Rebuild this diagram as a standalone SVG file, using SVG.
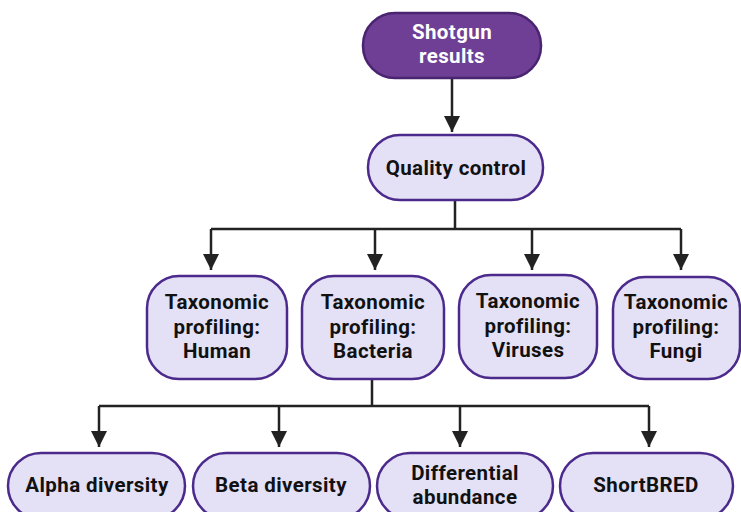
<svg xmlns="http://www.w3.org/2000/svg" width="741" height="512" viewBox="0 0 741 512">
<defs>
<style>
.box{fill:#e4e1f6;stroke:#4b2a8c;stroke-width:2.5}
.top{fill:#6e3f95;stroke:#4a2470;stroke-width:2.5}
.t{font-family:Roboto,"Liberation Sans",sans-serif;font-weight:bold;font-size:20.5px;letter-spacing:0.4px;fill:#111;text-anchor:middle}
.w{fill:#fff}
.c{fill:none;stroke:#222;stroke-width:2.5}
</style>
<marker id="ah" markerUnits="userSpaceOnUse" markerWidth="16" markerHeight="16" viewBox="0 0 16 16" refX="16" refY="8" orient="auto">
<path d="M0,0 L16,8 L0,16 Z" fill="#222"/>
</marker>
</defs>
<g id="connectors">
<path class="c" d="M452,78 V132" marker-end="url(#ah)"/>
<path class="c" d="M455,200 V229 M211,229 H681"/>
<path class="c" d="M211,229 V270" marker-end="url(#ah)"/>
<path class="c" d="M375,229 V270" marker-end="url(#ah)"/>
<path class="c" d="M532,229 V270" marker-end="url(#ah)"/>
<path class="c" d="M681,229 V270" marker-end="url(#ah)"/>
<path class="c" d="M372,379 V406 M99,406 H649"/>
<path class="c" d="M99,406 V447" marker-end="url(#ah)"/>
<path class="c" d="M279,406 V447" marker-end="url(#ah)"/>
<path class="c" d="M460,406 V447" marker-end="url(#ah)"/>
<path class="c" d="M649,406 V447" marker-end="url(#ah)"/>
</g>
<g id="shotgun">
<rect class="top" x="363" y="13" width="178" height="65" rx="32"/>
<text class="t w" x="452" y="39">Shotgun</text>
<text class="t w" x="452" y="63">results</text>
</g>
<g id="qc">
<rect class="box" x="368" y="135" width="175" height="65" rx="32"/>
<text class="t" x="456" y="175">Quality control</text>
</g>
<g id="human">
<rect class="box" x="147" y="276" width="140" height="103" rx="32"/>
<text class="t" x="217" y="309">Taxonomic</text>
<text class="t" x="217" y="334">profiling:</text>
<text class="t" x="217" y="358">Human</text>
</g>
<g id="bacteria">
<rect class="box" x="302" y="276" width="142" height="103" rx="32"/>
<text class="t" x="373" y="309">Taxonomic</text>
<text class="t" x="373" y="334">profiling:</text>
<text class="t" x="373" y="358">Bacteria</text>
</g>
<g id="viruses">
<rect class="box" x="459" y="275" width="138" height="103" rx="32"/>
<text class="t" x="528" y="308">Taxonomic</text>
<text class="t" x="528" y="333">profiling:</text>
<text class="t" x="528" y="357">Viruses</text>
</g>
<g id="fungi">
<rect class="box" x="613" y="277" width="127" height="102" rx="32"/>
<text class="t" x="676" y="309">Taxonomic</text>
<text class="t" x="676" y="334">profiling:</text>
<text class="t" x="676" y="358">Fungi</text>
</g>
<g id="alpha">
<rect class="box" x="8" y="453" width="177" height="66" rx="33"/>
<text class="t" x="97" y="492">Alpha diversity</text>
</g>
<g id="beta">
<rect class="box" x="193" y="453" width="177" height="66" rx="33"/>
<text class="t" x="281" y="492">Beta diversity</text>
</g>
<g id="differential">
<rect class="box" x="377" y="453" width="176" height="66" rx="33"/>
<text class="t" x="465" y="480">Differential</text>
<text class="t" x="465" y="504">abundance</text>
</g>
<g id="shortbred">
<rect class="box" x="560" y="453" width="173" height="66" rx="33"/>
<text class="t" x="646" y="492">ShortBRED</text>
</g>
</svg>
